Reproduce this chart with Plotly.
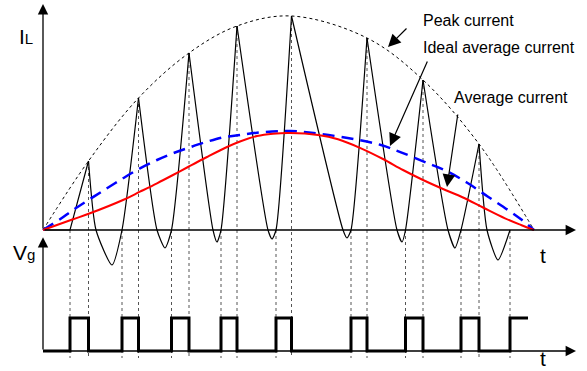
import plotly.graph_objects as go

# ---- data (time units, current units) ----
t_on = [27, 79, 128.5, 178, 233, 308, 362.5, 418, 467]       # gate turn-on instants
t_pk = [45.5, 95.5, 146, 194, 248.5, 324, 380, 436]          # gate turn-off / peak instants
i_pk = [69, 132, 177, 204, 214, 192, 150, 86]                # peak inductor current
t_zero = [53, 114, 170, 225, 300, 354, 405, 444]             # falling zero crossings
t_val = [69, 122, 174, 229, 304, 359, 412, 455]              # valley instants
i_val = [-35, -18, -12, -9, -8, -12, -18, -30]               # valley current
t_end = 491                                                  # end of half line cycle
vg_end = 485

avg_t = [0, 30, 47, 80, 97, 114, 130, 145, 164, 184, 197, 214, 230, 247,
         275, 295, 318, 340, 360, 380, 400, 420, 440, 462, 478, 491]
avg_i = [0, 10.7, 16.7, 30, 38.3, 46.7, 55, 63, 73, 83, 88.5, 94, 96.3, 97,
         95, 90.7, 81.7, 71, 60, 50, 41, 32.5, 22.5, 11.7, 5, 0]

ideal_t = [0, 17, 30, 47, 64, 80, 97, 114, 130, 147, 164, 180, 197, 214, 247,
           278, 312, 338, 358, 385, 405, 425, 445, 465, 478, 491]
ideal_i = [0, 10.7, 20, 31, 41.7, 51.7, 61.7, 70, 76.7, 82.7, 88.3, 92.7, 95, 97.3, 99,
           96, 90.7, 85, 77.7, 66.7, 58.3, 46.7, 33.3, 20, 10.7, 0]

guide_bottom = -128

fig = go.Figure()

# vertical dotted guides
gx, gy = [], []
for t in t_on:
    gx += [t, t, None]
    gy += [0, guide_bottom, None]
for t, i in zip(t_pk, i_pk):
    gx += [t, t, None]
    gy += [i, guide_bottom, None]
fig.add_trace(go.Scatter(x=gx, y=gy, mode="lines",
                         line=dict(color="#555555", width=1, dash="dot"),
                         hoverinfo="skip", showlegend=False))

# peak envelope
fig.add_trace(go.Scatter(x=[0] + t_pk + [t_end], y=[0] + i_pk + [0], mode="lines",
                         line=dict(color="black", width=1, dash="dot", shape="spline", smoothing=1),
                         hoverinfo="skip", showlegend=False))

# inductor current waveform
fig.add_trace(go.Scatter(x=[0, t_on[0], t_pk[0]], y=[0, 0, i_pk[0]], mode="lines",
                         line=dict(color="black", width=1.2),
                         hoverinfo="skip", showlegend=False))
for k in range(len(t_pk)):
    xs = [t_pk[k], t_zero[k], t_val[k], t_on[k + 1]]
    ys = [i_pk[k], 0, i_val[k], 0]
    if k + 1 < len(t_pk):
        xs.append(t_pk[k + 1])
        ys.append(i_pk[k + 1])
    fig.add_trace(go.Scatter(x=xs, y=ys, mode="lines",
                             line=dict(color="black", width=1.2, shape="spline", smoothing=0.6),
                             hoverinfo="skip", showlegend=False))

# ideal average current (blue dashed)
fig.add_trace(go.Scatter(x=ideal_t, y=ideal_i, mode="lines",
                         line=dict(color="#0000ff", width=2.5, dash="12px,7px", shape="spline"),
                         hoverinfo="skip", showlegend=False))
# average current (red)
fig.add_trace(go.Scatter(x=avg_t, y=avg_i, mode="lines",
                         line=dict(color="#ff0000", width=2, shape="spline"),
                         hoverinfo="skip", showlegend=False))

# gate signal
vx, vy = [0], [0]
for k in range(len(t_on)):
    vx.append(t_on[k]); vy.append(1)
    if k < len(t_pk):
        vx.append(t_pk[k]); vy.append(0)
vx.append(vg_end); vy.append(1)
fig.add_trace(go.Scatter(x=vx, y=vy, mode="lines", yaxis="y2",
                         line=dict(color="black", width=3, shape="hv"),
                         hoverinfo="skip", showlegend=False))

ann = []
def axis_arrow(x0, y0, x1, y1, yref):
    ann.append(dict(x=x1, y=y1, ax=x0, ay=y0, xref="x", yref=yref, axref="x", ayref=yref,
                    text="", showarrow=True, arrowhead=2, arrowsize=1.6, arrowwidth=1.3,
                    arrowcolor="black"))

axis_arrow(0, 0, 0, 226, "y")
axis_arrow(0, 0, 533, 0, "y")
axis_arrow(0, 0, 0, 3.45, "y2")
axis_arrow(0, 0, 533, 0, "y2")

def label_arrow(x0, y0, x1, y1):
    ann.append(dict(x=x1, y=y1, ax=x0, ay=y0, xref="x", yref="y", axref="x", ayref="y",
                    text="", showarrow=True, arrowhead=2, arrowsize=2.1, arrowwidth=1.2,
                    arrowcolor="black"))

label_arrow(365, 203, 345, 183)
label_arrow(385, 170, 347, 84)
label_arrow(415, 117, 404, 43)

family = "Arial, Liberation Sans, sans-serif"
def text(x, y, s, size=16, xanchor="left", yref="y"):
    ann.append(dict(x=x, y=y, xref="x", yref=yref, text=s, showarrow=False,
                    xanchor=xanchor, yanchor="middle",
                    font=dict(family=family, size=size, color="black")))

text(378, 210, "Peak current")
text(378, 183, "Ideal average current")
text(409, 133, "Average current")
text(-26, 194, "I<span style='font-size:15px'>L</span>", size=21)
text(-32, 3.0, "V<span style='font-size:15px'>g</span>", size=21, yref="y2")
text(495, -25, "t", size=21)
text(495, -0.22, "t", size=21, yref="y2")

fig.update_layout(
    width=587, height=371,
    margin=dict(l=0, r=0, t=0, b=0),
    paper_bgcolor="white", plot_bgcolor="white",
    xaxis=dict(range=[-43, 544], visible=False, fixedrange=True),
    yaxis=dict(range=[-141, 230], visible=False, fixedrange=True),
    yaxis2=dict(range=[-20 / 33, 351 / 33], visible=False, overlaying="y", fixedrange=True),
    annotations=ann,
    showlegend=False,
)

fig.write_html("out.html", config={"displayModeBar": False},
               post_script="document.body.style.margin='0';document.body.style.overflow='hidden';")
